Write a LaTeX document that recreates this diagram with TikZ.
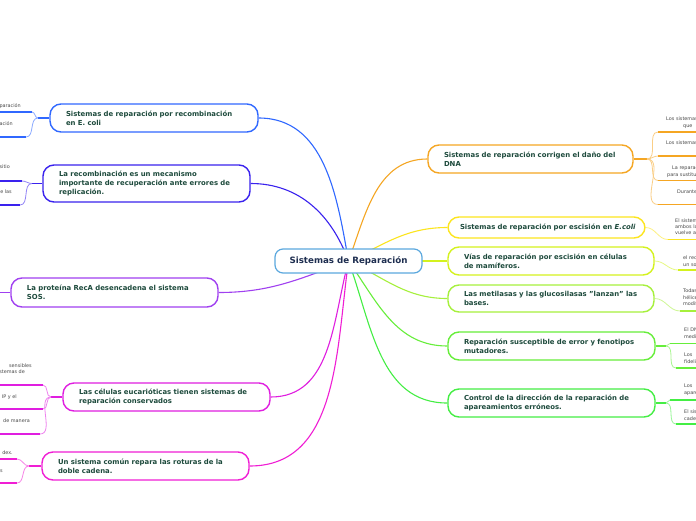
\documentclass[tikz,border=0pt]{standalone}
\usepackage{fontspec}
\setmainfont{DejaVu Sans}
\usetikzlibrary{backgrounds}
\definecolor{cOrange}{HTML}{F5A623}
\definecolor{cYellow}{HTML}{FCE51E}
\definecolor{cLime}{HTML}{D4F21E}
\definecolor{cLgreen}{HTML}{A6F03C}
\definecolor{cGreenA}{HTML}{66EE3A}
\definecolor{cGreenB}{HTML}{44EE44}
\definecolor{cBlue}{HTML}{3068FF}
\definecolor{cIndigo}{HTML}{3A22EE}
\definecolor{cPurple}{HTML}{A040F0}
\definecolor{cMag}{HTML}{E01EE0}
\definecolor{cPink}{HTML}{F01ED4}
\definecolor{cCenter}{HTML}{5BA8DE}
\definecolor{tMain}{HTML}{1D4A3C}
\definecolor{tCenter}{HTML}{1E2E50}
\definecolor{tSub}{HTML}{4A4A4A}
\begin{document}
\begin{tikzpicture}[x=1pt,y=-1pt,
  mainbox/.style={draw=#1, fill=white, rounded corners=11pt, line width=1.4pt,
    minimum height=28pt, inner ysep=0pt, inner xsep=16pt, text width=175pt,
    align=left, text=tMain, font=\bfseries\fontsize{6.9}{9}\selectfont},
  centerbox/.style={draw=cCenter, fill=white, rounded corners=8pt, line width=1.2pt,
    minimum width=147pt, minimum height=24pt, inner sep=0pt, text=tCenter,
    font=\bfseries\fontsize{8.7}{10}\selectfont},
  conn/.style={draw=#1, line width=1.1pt},
  subc/.style={draw=#1!55, line width=0.8pt},
  uline/.style={draw=#1, line width=1.8pt},
  subtxt/.style={inner sep=0pt, text=tSub, font=\fontsize{4.9}{6.5}\selectfont,
    text width=70pt, align=left, anchor=base west},
  subtxtL/.style={inner sep=0pt, text=tSub, font=\fontsize{4.9}{6.5}\selectfont,
    anchor=base east}
]
\path[use as bounding box] (0,0) rectangle (696,520);
\clip (0,0) rectangle (696,520);

% ---------- nodes ----------
\node[centerbox] (c) at (348.5,261) {Sistemas de Reparación};

\node[mainbox=cOrange, text width=173pt] (n1) at (530.5,159)
  {\mbox{Sistemas de reparación corrigen el daño del}\\DNA};
\node[mainbox=cYellow, text width=173pt, inner xsep=12pt, minimum height=21pt] (n2) at (546.5,227.5)
  {\mbox{Sistemas de reparación por escisión en \textit{E.coli}}};
\node[mainbox=cLime, text width=174pt] (n3) at (551,261)
  {\mbox{Vías de reparación por escisión en células}\\de mamíferos.};
\node[mainbox=cLgreen, text width=174pt, minimum height=27pt] (n4) at (551,298.5)
  {\mbox{Las metilasas y las glucosilasas "lanzan" las}\\bases.};
\node[mainbox=cGreenA] (n5) at (551.5,346)
  {\mbox{Reparación susceptible de error y fenotipos}\\mutadores.};
\node[mainbox=cGreenB] (n6) at (551.5,403)
  {\mbox{Control de la dirección de la reparación de}\\apareamientos erróneos.};

\node[mainbox=cBlue, text width=176pt] (n7) at (154,118)
  {\mbox{Sistemas de reparación por recombinación}\\en E. coli};
\node[mainbox=cIndigo, minimum height=37pt] (n8) at (146.5,183.5)
  {\mbox{La recombinación es un mecanismo}\\\mbox{importante de recuperación ante errores de}\\replicación.};
\node[mainbox=cPurple, minimum height=29pt] (n9) at (114.5,292.5)
  {\mbox{La proteína RecA desencadena el sistema}\\SOS.};
\node[mainbox=cMag] (n10) at (166.5,397)
  {\mbox{Las células eucarióticas tienen sistemas de}\\reparación conservados};
\node[mainbox=cPink] (n11) at (145.5,466)
  {\mbox{Un sistema común repara las roturas de la}\\doble cadena.};

% ---------- coordinates ----------
\coordinate (oj) at (647,159);
\coordinate (o1) at (658,132); \coordinate (o1e) at (700,132);
\coordinate (o2) at (658,156); \coordinate (o2e) at (700,156);
\coordinate (o3) at (658,180.5); \coordinate (o3e) at (700,180.5);
\coordinate (o4) at (658,204.5); \coordinate (o4e) at (700,204.5);
\coordinate (y1) at (668,239.5); \coordinate (y1e) at (700,239.5);
\coordinate (l1) at (678,270); \coordinate (l1e) at (700,270);
\coordinate (g1) at (680,311); \coordinate (g1e) at (700,311);
\coordinate (ga) at (666,346);
\coordinate (ga1) at (670,343.5); \coordinate (ga1e) at (700,343.5);
\coordinate (ga2) at (676,368); \coordinate (ga2e) at (700,368);
\coordinate (gb) at (666,403);
\coordinate (gb1) at (670,400); \coordinate (gb1e) at (700,400);
\coordinate (gb2) at (676,424); \coordinate (gb2e) at (700,424);

\coordinate (bj) at (38,118);
\coordinate (b1) at (32,112); \coordinate (b1e) at (-5,112);
\coordinate (b2) at (26,137); \coordinate (b2e) at (-5,137);
\coordinate (ij) at (32,183.5);
\coordinate (i1) at (22,181); \coordinate (i1e) at (-5,181);
\coordinate (i2) at (20,205); \coordinate (i2e) at (-5,205);
\coordinate (pe) at (-5,292.5);
\coordinate (mj) at (51,397);
\coordinate (m1) at (43,385); \coordinate (m1e) at (-5,385);
\coordinate (m2) at (43,409); \coordinate (m2e) at (-5,409);
\coordinate (m3) at (40,434); \coordinate (m3e) at (-5,434);
\coordinate (kj) at (29,466);
\coordinate (k1) at (17,459); \coordinate (k1e) at (-5,459);
\coordinate (k2) at (17,483); \coordinate (k2e) at (-5,483);

% ---------- connectors ----------
\begin{pgfonlayer}{background}
\fill[white] (0,0) rectangle (696,520);
\draw[conn=cBlue] (c.center) to[out=100,in=0] (n7.east);
\draw[conn=cIndigo] (c.center) to[out=110,in=0] (n8.east);
\draw[conn=cPurple] (c.center) to[out=200,in=0] (n9.east);
\draw[conn=cMag] (c.center) to[out=255,in=0] (n10.east);
\draw[conn=cPink] (c.center) to[out=262,in=0] (n11.east);
\draw[conn=cOrange] (c.center) to[out=70,in=180] (n1.west);
\draw[conn=cYellow] (c.center) to[out=25,in=180] (n2.west);
\draw[conn=cLime] (c.center) to[out=0,in=180] (n3.west);
\draw[conn=cLgreen] (c.center) to[out=-25,in=180] (n4.west);
\draw[conn=cGreenA] (c.center) to[out=-55,in=180] (n5.west);
\draw[conn=cGreenB] (c.center) to[out=-70,in=180] (n6.west);

% right sub-branches
\draw[conn=cOrange] (n1.east) -- (oj);
\foreach \p in {o1,o2,o3,o4} {\draw[subc=cOrange] (oj) to[out=0,in=180] (\p);}
\foreach \p in {o1,o2,o3,o4} {\draw[uline=cOrange] (\p) -- (\p e);}
\draw[subc=cYellow] (n2.east) to[out=0,in=180] (y1);
\draw[uline=cYellow] (y1) -- (y1e);
\draw[subc=cLime] (n3.east) to[out=0,in=180] (l1);
\draw[uline=cLime] (l1) -- (l1e);
\draw[subc=cLgreen] (n4.east) to[out=0,in=180] (g1);
\draw[uline=cLgreen] (g1) -- (g1e);
\draw[conn=cGreenA] (n5.east) -- (ga);
\draw[subc=cGreenA] (ga) to[out=0,in=180] (ga1);
\draw[subc=cGreenA] (ga) to[out=0,in=180] (ga2);
\draw[uline=cGreenA] (ga1) -- (ga1e);
\draw[uline=cGreenA] (ga2) -- (ga2e);
\draw[conn=cGreenB] (n6.east) -- (gb);
\draw[subc=cGreenB] (gb) to[out=0,in=180] (gb1);
\draw[subc=cGreenB] (gb) to[out=0,in=180] (gb2);
\draw[uline=cGreenB] (gb1) -- (gb1e);
\draw[uline=cGreenB] (gb2) -- (gb2e);

% left sub-branches
\draw[conn=cBlue] (n7.west) -- (bj);
\draw[subc=cBlue] (bj) to[out=180,in=0] (b1);
\draw[subc=cBlue] (bj) to[out=180,in=0] (b2);
\draw[uline=cBlue] (b1) -- (b1e);
\draw[uline=cBlue] (b2) -- (b2e);
\draw[conn=cIndigo] (n8.west) -- (ij);
\draw[subc=cIndigo] (ij) to[out=180,in=0] (i1);
\draw[subc=cIndigo] (ij) to[out=180,in=0] (i2);
\draw[uline=cIndigo] (i1) -- (i1e);
\draw[uline=cIndigo] (i2) -- (i2e);
\draw[conn=cPurple] (n9.west) -- (pe);
\draw[conn=cMag] (n10.west) -- (mj);
\foreach \p in {m1,m2,m3} {\draw[subc=cMag] (mj) to[out=180,in=0] (\p);}
\foreach \p in {m1,m2,m3} {\draw[uline=cMag] (\p) -- (\p e);}
\draw[conn=cPink] (n11.west) -- (kj);
\draw[subc=cPink] (kj) to[out=180,in=0] (k1);
\draw[subc=cPink] (kj) to[out=180,in=0] (k2);
\draw[uline=cPink] (k1) -- (k1e);
\draw[uline=cPink] (k2) -- (k2e);
\end{pgfonlayer}

% ---------- sub-topic texts (right) ----------
\node[subtxt] (to1) at (666,120.6) {Los sistemas\\\hspace*{17pt}que};
\node[subtxt] (to2) at (666,144.6) {Los sistemas};
\node[subtxt] (to3) at (672,169.6) {La reparación\\\hspace*{-5pt}para sustituir};
\node[subtxt] (to4) at (677,193.6) {Durante};
\node[subtxt, font=\fontsize{4.9}{6}\selectfont] (ty1) at (675,222.6) {El sistema\\ambos lados\\vuelve a};
\node[subtxt] (tl1) at (683,259.6) {el reconocimiento\\un solo};
\node[subtxt] (tg1) at (683,292.6) {Todas\\hélice\\modificada};
\node[subtxt] (tga1) at (684,331.6) {El DNA\\mediante};
\node[subtxt] (tga2) at (684,356.6) {Los\\fidelidad};
\node[subtxt] (tgb1) at (684,387.6) {Los\\apareamientos};
\node[subtxt] (tgb2) at (684,413.6) {El sistema\\cadena};

% ---------- sub-topic texts (left) ----------
\node[subtxtL] (tb1) at (21,107.6) {reparación};
\node[subtxtL] (tb2) at (13,125.6) {recombinación};
\node[subtxtL] (ti1) at (10,168.6) {sitio};
\node[subtxtL] (ti2) at (12,193.6) {de las};
\node[subtxtL] (tm1a) at (32,367.6) {sensibles};
\node[subtxtL] (tm1b) at (25,373.6) {sistemas de};
\node[subtxtL] (tm2) at (17,398.6) {IP y el};
\node[subtxtL] (tm3) at (30,422.6) {de manera};
\node[subtxtL] (tk1) at (13,454.6) {dex.};
\node[subtxtL] (tk2) at (3,472.6) {s};
\end{tikzpicture}
\end{document}
